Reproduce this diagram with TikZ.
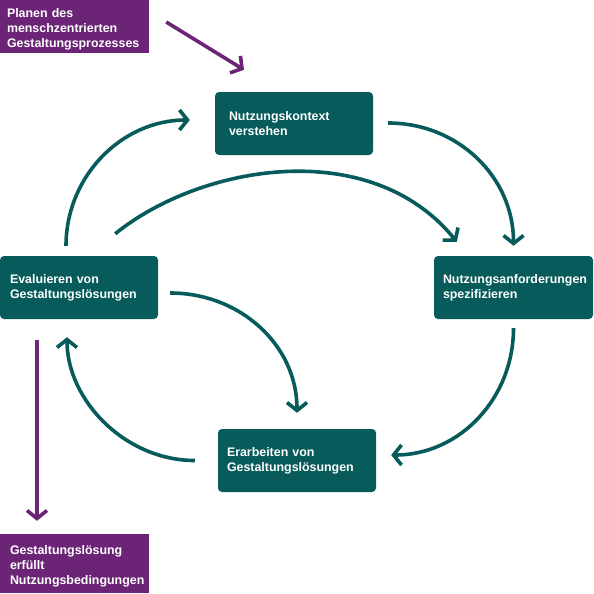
\documentclass[tikz,border=0pt]{standalone}
\usepackage{fontspec}
\setmainfont{Liberation Sans}
\usetikzlibrary{arrows.meta,calc}
\definecolor{teal1}{HTML}{075B5B}
\definecolor{purp}{HTML}{6C2576}
\begin{document}
\begin{tikzpicture}[x=1pt,y=-1pt,
  txt/.style={text=white,font=\fontsize{12.4}{15}\selectfont\bfseries,align=left,inner ysep=0pt},
  box/.style={txt,fill=teal1,rounded corners=4pt,minimum height=63pt},
  pbox/.style={txt,fill=purp},
  conn/.style={draw=teal1,line width=3.6pt,-{Straight Barb[length=8pt,width=20pt]}},
  pconn/.style={conn,draw=purp}]
\useasboundingbox (0,0) rectangle (594,594);
\node[pbox,minimum height=53pt,inner xsep=7pt,text width=135pt] (plan) at (74.5,26.5) {\rule{0pt}{15pt}Planen des\\menschzentrierten\\Gestaltungsprozesses};
\node[box,inner xsep=14pt,text width=130pt] (ctx) at (294,123.5) {Nutzungskontext\\verstehen};
\node[box,inner xsep=10pt,text width=138pt] (eval) at (79,287.5) {Evaluieren von\\Gestaltungslösungen};
\node[box,inner xsep=9pt,text width=141pt] (req) at (513.5,287.5) {Nutzungsanforderungen\\spezifizieren};
\node[box,inner xsep=9pt,text width=140pt] (erarb) at (297,460.5) {Erarbeiten von\\Gestaltungslösungen};
\node[pbox,minimum height=59pt,inner xsep=10pt,text width=129pt] (cond) at (74.5,563.5) {\rule{0pt}{15pt}Gestaltungslösung\\erfüllt\\Nutzungsbedingungen};
% connectors
\draw[pconn] ([xshift=17pt,yshift=4.5pt]plan.east) -- ([xshift=-50pt,yshift=22pt]ctx.north);
\draw[conn] ([xshift=-13pt,yshift=10pt]eval.north) .. controls (66,177) and (121,120) .. ([xshift=-25pt,yshift=3.5pt]ctx.west);
\draw[conn] ([xshift=15pt,yshift=0.5pt]ctx.east) .. controls (458,123) and (513.5,177) .. ([yshift=10pt]req.north);
\draw[conn] ([xshift=-43pt,yshift=22pt]eval.north east) .. controls (200,165) and (370,135) .. ([xshift=23pt,yshift=14pt]req.north west);
\draw[conn] ([yshift=-9pt]req.south) .. controls (513.5,398) and (460,455) .. ([xshift=15pt,yshift=5.5pt]erarb.east);
\draw[conn] ([xshift=12pt,yshift=-5.5pt]eval.east) .. controls (240,293) and (297,345) .. ([yshift=16pt]erarb.north);
\draw[conn] ([xshift=-23pt]erarb.west) .. controls (125,460.5) and (67,400) .. ([xshift=-12pt,yshift=-18pt]eval.south);
\draw[pconn] ([xshift=-42pt,yshift=-21pt]eval.south) -- ([xshift=-37.5pt,yshift=13pt]cond.north);
\end{tikzpicture}
\end{document}
